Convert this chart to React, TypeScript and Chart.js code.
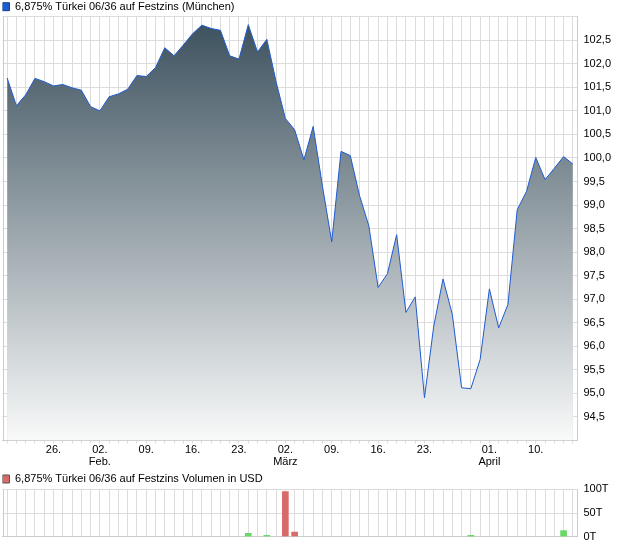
import { useEffect, useRef } from 'react';
import { Chart, registerables } from 'chart.js';

Chart.register(...registerables);

// Trading days (Börse München), 19.01. – 16.04.
const dates = [
  '19.01.', '20.01.', '21.01.', '22.01.', '23.01.', '26.01.', '27.01.', '28.01.', '29.01.', '30.01.',
  '02.02.', '03.02.', '04.02.', '05.02.', '06.02.', '09.02.', '10.02.', '11.02.', '12.02.', '13.02.',
  '16.02.', '17.02.', '18.02.', '19.02.', '20.02.', '23.02.', '24.02.', '25.02.', '26.02.', '27.02.',
  '02.03.', '03.03.', '04.03.', '05.03.', '06.03.', '09.03.', '10.03.', '11.03.', '12.03.', '13.03.',
  '16.03.', '17.03.', '18.03.', '19.03.', '20.03.', '23.03.', '24.03.', '25.03.', '26.03.', '27.03.',
  '30.03.', '31.03.', '01.04.', '02.04.', '07.04.', '08.04.', '09.04.', '10.04.', '13.04.', '14.04.',
  '15.04.', '16.04.',
];

const prices = [
  101.70, 101.11, 101.34, 101.69, 101.62, 101.53, 101.56, 101.49, 101.44, 101.09,
  101.00, 101.30, 101.36, 101.46, 101.75, 101.73, 101.92, 102.34, 102.17, 102.40,
  102.64, 102.82, 102.75, 102.71, 102.17, 102.10, 102.83, 102.25, 102.52, 101.62,
  100.84, 100.60, 99.96, 100.67, 99.40, 98.22, 100.14, 100.05, 99.20, 98.56,
  97.25, 97.54, 98.37, 96.72, 97.05, 94.91, 96.43, 97.43, 96.68, 95.12,
  95.10, 95.72, 97.22, 96.39, 96.89, 98.90, 99.29, 100.01, 99.54, 99.78,
  100.03, 99.87,
];

const tickDates = ['26.01.', '02.02.', '09.02.', '16.02.', '23.02.', '02.03.', '09.03.', '16.03.', '23.03.', '01.04.', '10.04.'];
const tickTexts = [['26.'], ['02.', 'Feb.'], ['09.'], ['16.'], ['23.'], ['02.', 'März'], ['09.'], ['16.'], ['23.'], ['01.', 'April'], ['10.']];

const volumeDates = ['24.02.', '26.02.', '02.03.', '03.03.', '30.03.', '15.04.'];
const volumeValues = [7, 3, 95, 10, 3, 13]; // in T (thousand USD)
const volumeUp = [true, true, false, false, true, true];

const priceLabel = '6,875% Türkei 06/36 auf Festzins (München)';
const volumeLabel = '6,875% Türkei 06/36 auf Festzins Volumen in USD';

const FONT = { family: '"Liberation Sans", Arial, sans-serif', size: 11 };
const GRID = '#dcdcdc';
const BORDER = '#cccccc';
const LINE = '#1f5bd0';
const UP = '#66d966';
const DOWN = '#d96a6a';

const leftBorder = {
  id: 'leftBorder',
  beforeDatasetsDraw(chart: any) {
    const { ctx, chartArea } = chart;
    ctx.save();
    ctx.strokeStyle = BORDER;
    ctx.lineWidth = 1;
    const x = Math.round(chartArea.left) + 0.5;
    ctx.beginPath();
    ctx.moveTo(x, chartArea.top);
    ctx.lineTo(x, chartArea.bottom);
    ctx.stroke();
    ctx.restore();
  },
};

export default function App() {
  const mainRef = useRef<HTMLCanvasElement>(null);
  const volRef = useRef<HTMLCanvasElement>(null);

  useEffect(() => {
    document.body.style.margin = '0';
    const volumeData = dates.map((d) => {
      const k = volumeDates.indexOf(d);
      return k >= 0 ? volumeValues[k] : null;
    });
    const volumeColors = dates.map((d) => {
      const k = volumeDates.indexOf(d);
      return k >= 0 && !volumeUp[k] ? DOWN : UP;
    });

    const main = new Chart(mainRef.current!, {
      type: 'line',
      data: {
        labels: dates,
        datasets: [
          {
            label: priceLabel,
            data: prices,
            borderColor: LINE,
            borderWidth: 1,
            pointRadius: 0,
            tension: 0,
            fill: 'start',
            backgroundColor: (c: any) => {
              const a = c.chart.chartArea;
              if (!a) return 'rgba(0,0,0,0)';
              const g = c.chart.ctx.createLinearGradient(0, a.top, 0, a.bottom);
              g.addColorStop(0, '#3a4f5c');
              g.addColorStop(1, '#f9fafa');
              return g;
            },
          },
        ],
      },
      options: {
        responsive: false,
        maintainAspectRatio: false,
        animation: false,
        layout: { padding: { left: 2.5, right: 0, top: 1.2, bottom: 0 } },
        plugins: {
          tooltip: { enabled: false },
          legend: {
            display: true,
            position: 'top',
            align: 'start',
            maxHeight: 15.5,
            labels: {
              boxWidth: 7,
              boxHeight: 8,
              padding: 0,
              font: FONT,
              color: '#000',
              generateLabels: () => [
                { text: priceLabel, fillStyle: LINE, strokeStyle: '#163f8f', lineWidth: 1, hidden: false, datasetIndex: 0, fontColor: '#000' } as any,
              ],
            },
          },
        },
        scales: {
          x: {
            type: 'category',
            offset: true,
            grid: { color: GRID, offset: false, drawTicks: true, tickLength: 3 },
            border: { color: BORDER },
            ticks: {
              autoSkip: false,
              maxRotation: 0,
              minRotation: 0,
              padding: 1,
              font: { ...FONT, lineHeight: 1.05 },
              color: '#000',
              callback: (_v: any, i: number) => {
                const k = tickDates.indexOf(dates[i]);
                return k >= 0 ? tickTexts[k] : '';
              },
            },
            afterFit: (s: any) => {
              s.height = 29.5;
            },
          },
          y: {
            position: 'right',
            min: 94,
            max: 103,
            grid: { color: GRID, drawTicks: false },
            border: { color: BORDER },
            ticks: {
              stepSize: 0.5,
              padding: 6,
              font: FONT,
              color: '#000',
              callback: (v: any) => (v <= 94 || v >= 103 ? '' : Number(v).toFixed(1).replace('.', ',')),
            },
            afterFit: (s: any) => {
              s.width = 42.5;
            },
          },
        },
      } as any,
      plugins: [leftBorder],
    });

    const vol = new Chart(volRef.current!, {
      type: 'bar',
      data: {
        labels: dates,
        datasets: [
          {
            label: volumeLabel,
            data: volumeData,
            backgroundColor: volumeColors,
            barThickness: 6,
          },
        ],
      },
      options: {
        responsive: false,
        maintainAspectRatio: false,
        animation: false,
        layout: { padding: { left: 2.5, right: 0, top: 3.5, bottom: 0 } },
        plugins: {
          tooltip: { enabled: false },
          legend: {
            display: true,
            position: 'top',
            align: 'start',
            maxHeight: 15.8,
            labels: {
              boxWidth: 7,
              boxHeight: 8,
              padding: 0,
              font: FONT,
              color: '#000',
              generateLabels: () => [
                { text: volumeLabel, fillStyle: DOWN, strokeStyle: '#555555', lineWidth: 1, hidden: false, datasetIndex: 0, fontColor: '#000' } as any,
              ],
            },
          },
        },
        scales: {
          x: {
            type: 'category',
            offset: true,
            grid: { color: GRID, offset: false, drawTicks: false },
            border: { color: BORDER },
            ticks: { display: false },
            afterFit: (s: any) => {
              s.height = 9.3;
            },
          },
          y: {
            position: 'right',
            min: 0,
            max: 100,
            grid: { color: GRID, drawTicks: false },
            border: { color: BORDER },
            ticks: {
              stepSize: 50,
              padding: 6,
              font: { ...FONT, lineHeight: 0.6 },
              color: '#000',
              callback: (v: any) => `${v}T`,
            },
            afterFit: (s: any) => {
              s.width = 42.5;
            },
          },
        },
      } as any,
      plugins: [leftBorder],
    });

    return () => {
      main.destroy();
      vol.destroy();
    };
  }, []);

  return (
    <div style={{ width: 620, height: 546, background: '#fff' }}>
      <canvas ref={mainRef} width={620} height={470} style={{ display: 'block' }} />
      <canvas ref={volRef} width={620} height={76} style={{ display: 'block' }} />
    </div>
  );
}
